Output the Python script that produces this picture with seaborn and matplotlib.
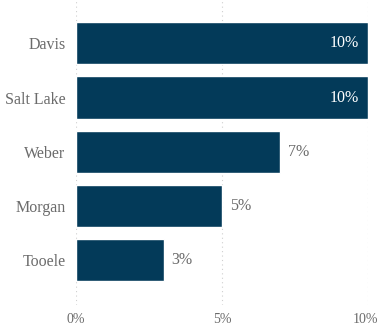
import matplotlib
matplotlib.use("Agg")
import matplotlib.pyplot as plt
import matplotlib.transforms as mtransforms
import pandas as pd
import seaborn as sns

counties = ["Davis", "Salt Lake", "Weber", "Morgan", "Tooele"]
shares = [10, 10, 7, 5, 3]
tick_values = [0, 5, 10]
tick_labels = ["0%", "5%", "10%"]

BAR_COLOR = "#033a59"
TEXT_COLOR = "#6b6b6b"


def main() -> None:
    sns.set_theme(style="white")
    plt.rcParams["font.family"] = ["Liberation Serif", "DejaVu Serif"]

    df = pd.DataFrame({"county": counties, "share": shares})

    fig = plt.figure(figsize=(3.79, 3.25), dpi=100)
    ax = fig.add_axes([76 / 379, 20 / 325, 292 / 379, 305 / 325])
    sns.barplot(data=df, y="county", x="share", color=BAR_COLOR, width=0.78,
                saturation=1, ax=ax)

    ax.set_xlim(0, 10)
    ax.set_ylim(4.83, -0.8)
    ax.set_xticks(tick_values)
    ax.set_xticklabels(tick_labels)
    ax.set_xlabel("")
    ax.set_ylabel("")
    for s in ax.spines.values():
        s.set_visible(False)
    ax.grid(axis="x", color="#cfcfcf", linestyle=(0, (1, 3)), linewidth=0.8)
    ax.set_axisbelow(True)
    ax.tick_params(axis="both", length=0, labelcolor=TEXT_COLOR)
    ax.tick_params(axis="y", labelsize=11.5, pad=7.5)
    ax.tick_params(axis="x", labelsize=10, pad=6)

    # keep the last tick label inside the figure edge
    last = ax.get_xticklabels()[-1]
    shift = mtransforms.ScaledTranslation(-3 / 100, 0, fig.dpi_scale_trans)
    last.set_transform(last.get_transform() + shift)

    for i, v in enumerate(shares):
        if v >= 9:
            ax.text(v - 0.32, i, f"{v}%", ha="right", va="center",
                    color="white", fontsize=11.5)
        else:
            ax.text(v + 0.27, i, f"{v}%", ha="left", va="center",
                    color=TEXT_COLOR, fontsize=11.5)

    fig.savefig("out.png", dpi=100)
    plt.close(fig)


if __name__ == "__main__":
    main()
